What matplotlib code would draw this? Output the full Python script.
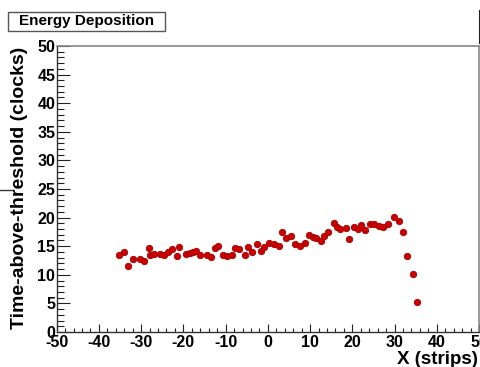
import matplotlib
matplotlib.use("Agg")
import matplotlib.pyplot as plt
from matplotlib.ticker import MultipleLocator
from matplotlib.lines import Line2D
from matplotlib.patches import Rectangle

plt.rcParams["axes.unicode_minus"] = False

# Data
x_strips = [-35.2, -34.0, -33.0, -31.9, -30.2, -29.4, -28.2, -27.9, -26.9, -25.6,
            -24.6, -23.6, -22.7, -21.6, -21.0, -19.3, -18.5, -17.7, -16.9, -16.0,
            -14.4, -13.5, -12.6, -11.7, -10.7, -9.6, -8.6, -7.8, -6.8, -5.5,
            -4.7, -3.8, -2.5, -1.6, -0.8, 0.3, 1.5, 2.6, 3.3, 4.3,
            5.5, 6.5, 7.6, 8.7, 9.8, 10.7, 11.5, 12.7, 13.3, 14.2,
            15.6, 16.3, 17.0, 18.5, 19.2, 20.3, 21.4, 22.1, 22.9, 24.1,
            25.2, 26.4, 27.2, 28.4, 29.8, 31.0, 32.0, 33.0, 34.3, 35.3]
tot_clocks = [13.5, 13.9, 11.6, 12.8, 12.8, 12.5, 14.7, 13.4, 13.6, 13.7,
              13.4, 14.0, 14.5, 13.2, 14.9, 13.6, 13.8, 13.9, 14.2, 13.5,
              13.5, 13.1, 14.6, 15.0, 13.5, 13.2, 13.5, 14.6, 14.5, 13.4,
              14.9, 13.9, 15.4, 14.1, 14.9, 15.6, 15.3, 15.1, 17.4, 16.4,
              16.7, 15.3, 15.0, 15.6, 17.0, 16.6, 16.5, 15.9, 16.8, 17.4,
              19.1, 18.4, 18.0, 18.1, 16.3, 18.3, 18.0, 18.7, 17.8, 18.8,
              18.8, 18.5, 18.4, 18.8, 20.1, 19.4, 17.5, 13.2, 10.2, 5.3]

title_text = "Energy Deposition"
x_label = "X (strips)"
y_label = "Time-above-threshold (clocks)"

W, H = 481, 367
fig = plt.figure(figsize=(W / 100, H / 100), dpi=100)
fig.patch.set_facecolor("white")

left, right, top, bottom = 56.7, 479.0, 46.0, 332.0
ax = fig.add_axes([left / W, 1 - bottom / H, (right - left) / W, (bottom - top) / H])

ax.plot(x_strips, tot_clocks, linestyle="none", marker="o", markersize=4.6,
        markerfacecolor="#cc0000", markeredgecolor="#a00000", markeredgewidth=0.6)

ax.set_xlim(-50, 50)
ax.set_ylim(0, 50)

ax.xaxis.set_major_locator(MultipleLocator(10))
ax.xaxis.set_minor_locator(MultipleLocator(2))
ax.yaxis.set_major_locator(MultipleLocator(5))
ax.yaxis.set_minor_locator(MultipleLocator(1))

ax.tick_params(axis="x", which="major", direction="in", length=6, width=0.8,
               color="#222222", pad=2.5, top=False)
ax.tick_params(axis="x", which="minor", direction="in", length=3, width=0.8,
               color="#222222", top=False)
ax.tick_params(axis="y", which="major", direction="in", length=9.5, width=0.8,
               color="#222222", pad=1.0, right=False)
ax.tick_params(axis="y", which="minor", direction="in", length=4.8, width=0.8,
               color="#222222", right=False)

for lab in ax.get_xticklabels() + ax.get_yticklabels():
    lab.set_fontfamily("Liberation Sans")
    lab.set_fontweight("bold")
    lab.set_fontsize(11.5)

for s in ["left", "bottom"]:
    ax.spines[s].set_color("#333333")
    ax.spines[s].set_linewidth(1.0)
for s in ["top", "right"]:
    ax.spines[s].set_color("#888888")
    ax.spines[s].set_linewidth(1.2)

# Axis titles (ROOT style: x title right-aligned, y title centred)
fig.text(478 / W, 1 - 359 / H, x_label, ha="right", va="center",
         fontfamily="Liberation Sans", fontweight="bold", fontsize=13.5)
fig.text(20 / W, 1 - 188 / H, y_label, ha="center", va="center", rotation=90,
         fontfamily="Liberation Sans", fontweight="bold", fontsize=14)

# Title box
fig.patches.append(Rectangle((8 / W, 1 - 31 / H), (165 - 8) / W, (31 - 12) / H,
                             transform=fig.transFigure, facecolor="white",
                             edgecolor="#555555", linewidth=1.0))
fig.text(87 / W, 1 - 21.5 / H, title_text, ha="center", va="center",
         fontfamily="Liberation Sans", fontweight="bold", fontsize=11)

# Stray marks present in the reference image
fig.add_artist(Line2D([0, 12 / W], [1 - 190 / H, 1 - 190 / H],
                      transform=fig.transFigure, color="#333333", linewidth=1.0))
fig.add_artist(Line2D([480 / W, 480 / W], [1 - 11 / H, 1 - 43 / H],
                      transform=fig.transFigure, color="#222222", linewidth=1.5))

fig.savefig("out.png", dpi=100)
